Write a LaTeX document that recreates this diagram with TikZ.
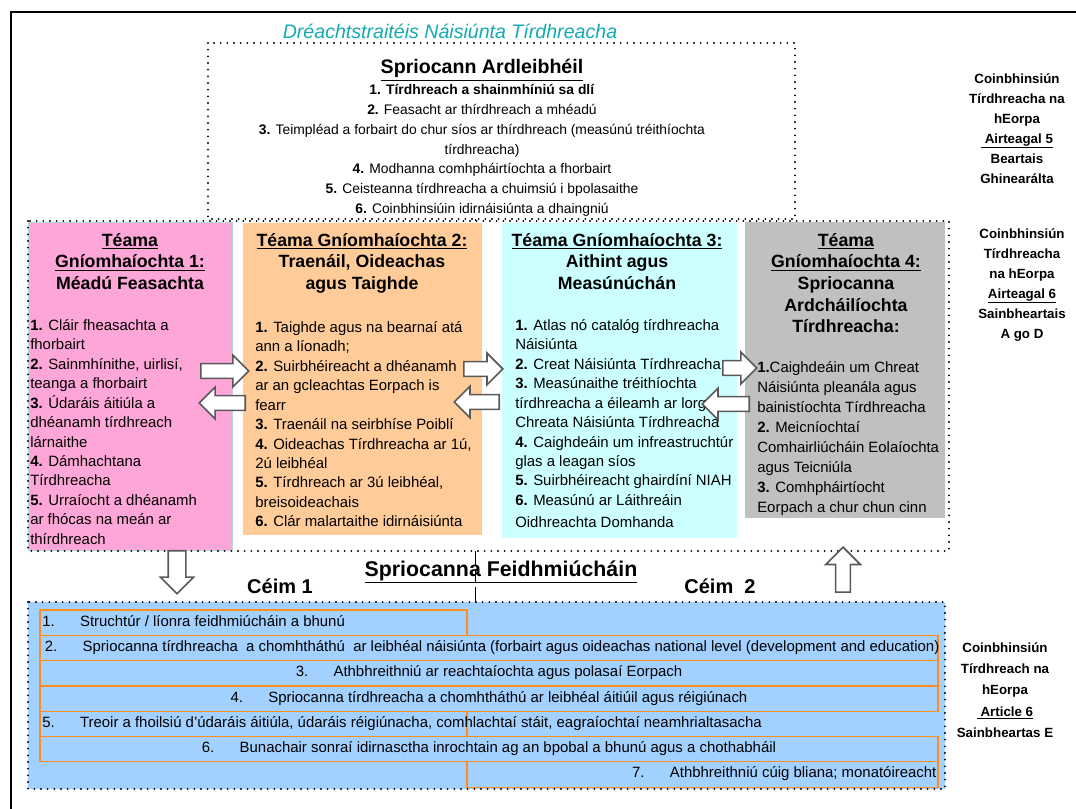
\documentclass[tikz,border=0pt]{standalone}
\usepackage{fontspec}
\setmainfont{Liberation Sans}
\usetikzlibrary{shapes.arrows}
\definecolor{pinkbox}{RGB}{255,166,216}
\definecolor{tanbox}{RGB}{255,204,153}
\definecolor{turqbox}{RGB}{204,255,255}
\definecolor{greybox}{RGB}{192,192,192}
\definecolor{bluebox}{RGB}{163,209,255}
\definecolor{rowline}{RGB}{255,140,30}
\definecolor{titleteal}{RGB}{20,170,175}
\tikzset{
  dots/.style={line width=1.6pt, dash pattern=on 0pt off 5pt, line cap=round},
  colbox/.style={anchor=north west, inner sep=0pt, outer sep=0pt},
  head/.style={font=\bfseries\fontsize{13.3}{16.2}\selectfont, align=center, inner sep=0pt, anchor=north},
  list/.style={font=\fontsize{11.2}{14.6}\selectfont, align=left, inner sep=0pt, anchor=north west},
  side/.style={font=\bfseries\fontsize{10}{15}\selectfont, align=center, inner sep=0pt, anchor=north},
  row/.style={draw=rowline, fill=bluebox, line width=0.9pt, anchor=north west, inner sep=0pt, outer sep=0pt, minimum height=25.3*0.75pt},
  rowtext/.style={font=\fontsize{11.2}{14}\selectfont, inner sep=0pt},
  barrow/.style={single arrow, draw=black!65, fill=white, line width=1.2pt, inner xsep=0pt, inner ysep=4.9pt, single arrow head extend=6.4pt, anchor=tail},
  varrow/.style={barrow, inner xsep=6pt, inner ysep=0pt},
}
\newcommand{\rowgap}{\hspace{19pt}}
\begin{document}
\begin{tikzpicture}[x=0.75pt,y=-0.75pt]
  \useasboundingbox (0,0) rectangle (1076,809);
  \clip (0,0) rectangle (1076,809);
  % frame
  \draw[line width=1.5pt] (11,830) -- (11,12) -- (1090,12);
  \draw[dashed, dash pattern=on 11pt off 3pt, line width=0.6pt] (475,214) -- (475,602);
  % top goals
  \draw[dots, fill=white] (208,43) rectangle (795,219);
  \node[font=\itshape\fontsize{14.7}{17}\selectfont, text=titleteal, anchor=base] (title) at (450,39) {Dréachtstraitéis Náisiúnta Tírdhreacha};
  \node[font=\bfseries\fontsize{14.7}{17}\selectfont, anchor=base] (goal) at (482,74) {\underline{Spriocann Ardleibhéil}};
  \node[font=\fontsize{10.4}{14.9}\selectfont, align=center, anchor=north, inner sep=0pt] (goals) at (482,84)
    {\textbf{1. Tírdhreach a shainmhíniú sa dlí}\\
     \textbf{2.} Feasacht ar thírdhreach a mhéadú\\
     \textbf{3.} Teimpléad a forbairt do chur síos ar thírdhreach (measúnú tréithíochta\\
     tírdhreacha)\\
     \textbf{4.} Modhanna comhpháirtíochta a fhorbairt\\
     \textbf{5.} Ceisteanna tírdhreacha a chuimsiú i bpolasaithe\\
     \textbf{6.} Coinbhinsiúin idirnáisiúnta a dhaingniú};
  % themes
  \fill[white] (28,221) rectangle (949,551);
  \node[colbox, fill=pinkbox, draw=turqbox!70!gray, line width=0.4pt, minimum width=204*0.75pt, minimum height=328*0.75pt] (c1) at (28,222) {};
  \node[colbox, fill=tanbox, minimum width=239*0.75pt, minimum height=312*0.75pt] (c2) at (243,223) {};
  \node[colbox, fill=turqbox, minimum width=235*0.75pt, minimum height=315*0.75pt] (c3) at (502,223) {};
  \node[colbox, fill=greybox, minimum width=200*0.75pt, minimum height=296*0.75pt] (c4) at (745,222) {};
  \draw[dots] (28,221) rectangle (949,551);
  \node[head] (t1) at (130,233) {\underline{Téama}\\\underline{Gníomhaíochta 1:}\\Méadú Feasachta};
  \node[head] (t2) at (362,233) {\underline{Téama Gníomhaíochta 2:}\\Traenáil, Oideachas\\agus Taighde};
  \node[head] (t3) at (617,233) {\underline{Téama Gníomhaíochta 3:}\\Aithint agus\\Measúnúchán};
  \node[head] (t4) at (846,233) {\underline{Téama}\\\underline{Gníomhaíochta 4:}\\Spriocanna\\Ardcháilíochta\\Tírdhreacha:};
  \node[list] (l1) at (30,319) {\textbf{1.} Cláir fheasachta a\\fhorbairt\\\textbf{2.} Sainmhínithe, uirlisí,\\teanga a fhorbairt\\\textbf{3.} Údaráis áitiúla a\\dhéanamh tírdhreach\\lárnaithe\\\textbf{4.} Dámhachtana\\Tírdhreacha\\\textbf{5.} Urraíocht a dhéanamh\\ar fhócas na meán ar\\thírdhreach};
  \node[list] (l2) at (255,321) {\textbf{1.} Taighde agus na bearnaí atá\\ann a líonadh;\\\textbf{2.} Suirbhéireacht a dhéanamh\\ar an gcleachtas Eorpach is\\fearr\\\textbf{3.} Traenáil na seirbhíse Poiblí\\\textbf{4.} Oideachas Tírdhreacha ar 1ú,\\2ú leibhéal\\\textbf{5.} Tírdhreach ar 3ú leibhéal,\\breisoideachais\\\textbf{6.} Clár malartaithe idirnáisiúnta};
  \node[list] (l3) at (515,319) {\textbf{1.} Atlas nó catalóg tírdhreacha\\Náisiúnta\\\textbf{2.} Creat Náisiúnta Tírdhreacha\\\textbf{3.} Measúnaithe tréithíochta\\tírdhreacha a éileamh ar lorg an\\Chreata Náisiúnta Tírdhreacha\\\textbf{4.} Caighdeáin um infreastruchtúr\\glas a leagan síos\\\textbf{5.} Suirbhéireacht ghairdíní NIAH\\\textbf{6.} Measúnú ar Láithreáin\\[2pt]Oidhreachta Domhanda};
  \node[list, font=\fontsize{11.2}{15}\selectfont] (l4) at (757,361) {\textbf{1.}Caighdeáin um Chreat\\Náisiúnta pleanála agus\\bainistíochta Tírdhreacha\\\textbf{2.} Meicníochtaí\\Comhairliúcháin Eolaíochta\\agus Teicniúla\\\textbf{3.} Comhpháirtíocht\\Eorpach a chur chun cinn};
  % articles
  \node[side] (art5) at (1017,73) {Coinbhinsiún\\Tírdhreacha na\\hEorpa\\\underline{\ Airteagal 5}\\Beartais\\Ghinearálta};
  \node[side] (art6) at (1022,228) {Coinbhinsiún\\Tírdhreacha\\na hEorpa\\\underline{Airteagal 6}\\Sainbheartais\\A go D};
  \node[side, font=\bfseries\fontsize{10}{16.1}\selectfont] (art6e) at (1005,642) {Coinbhinsiún\\Tírdhreach na\\hEorpa\\\underline{\ Article 6}\\Sainbheartas E};
  % implementation
  \node[font=\bfseries\fontsize{16}{18}\selectfont, anchor=base] (impl) at (501,576) {\underline{Spriocanna Feidhmiúcháin}};
  \node[font=\bfseries\fontsize{15}{18}\selectfont, anchor=base] (st1) at (280,594) {Céim 1};
  \node[font=\bfseries\fontsize{15}{18}\selectfont, anchor=base] (st2) at (720,594) {Céim\ \ 2};
  \fill[bluebox] (28,602) rectangle (945,789);
  \node[row, minimum width=427*0.75pt] (r1) at (40,610) {};
  \node[row, minimum width=898*0.75pt] (r2) at (40,635.3) {};
  \node[row, minimum width=898*0.75pt] (r3) at (40,660.6) {};
  \node[row, minimum width=898*0.75pt] (r4) at (40,685.9) {};
  \node[row, minimum width=427*0.75pt] (r5) at (40,711.2) {};
  \node[row, minimum width=898*0.75pt] (r6) at (40,736.5) {};
  \node[row, minimum width=471*0.75pt] (r7) at (467,761.8) {};
  \draw[dots] (28,602) rectangle (945,789);
  \node[rowtext, anchor=mid west, xshift=1.5pt] (p1) at (r1.west) {1.\rowgap Struchtúr / líonra feidhmiúcháin a bhunú};
  \node[rowtext, anchor=mid west, xshift=3.5pt] (p2) at (r2.west) {2.\rowgap Spriocanna tírdhreacha\ \ a chomhtháthú\ \ ar leibhéal náisiúnta (forbairt agus oideachas national level (development and education)};
  \node[rowtext, anchor=mid] (p3) at (r3.center) {3.\rowgap Athbhreithniú ar reachtaíochta agus polasaí Eorpach};
  \node[rowtext, anchor=mid] (p4) at (r4.center) {4.\rowgap Spriocanna tírdhreacha a chomhtháthú ar leibhéal áitiúil agus réigiúnach};
  \node[rowtext, anchor=mid west, xshift=1.5pt] (p5) at (r5.west) {5.\rowgap Treoir a fhoilsiú d'údaráis áitiúla, údaráis réigiúnacha, comhlachtaí stáit, eagraíochtaí neamhrialtasacha};
  \node[rowtext, anchor=mid] (p6) at (r6.center) {6.\rowgap Bunachair sonraí idirnasctha inrochtain ag an bpobal a bhunú agus a chothabháil};
  \node[rowtext, anchor=mid east, xshift=-1pt] (p7) at (r7.east) {7.\rowgap Athbhreithniú cúig bliana; monatóireacht};
  % block arrows
  \node[barrow, minimum height=36pt] (a1r) at (200,371) {};
  \node[barrow, shape border rotate=180, minimum height=34.5pt] (a1l) at (246,403) {};
  \node[barrow, minimum height=29.3pt] (a2r) at (463,369) {};
  \node[barrow, shape border rotate=180, minimum height=33.8pt] (a2l) at (500,402) {};
  \node[barrow, minimum height=25.5pt] (a3r) at (722,368) {};
  \node[barrow, shape border rotate=180, minimum height=35.3pt] (a3l) at (750,404) {};
  \node[varrow, shape border rotate=270, single arrow head extend=6pt, minimum height=32.3pt] (down) at (177,550) {};
  \node[varrow, shape border rotate=90, inner xsep=4.9pt, single arrow head extend=7.5pt, minimum height=33.8pt] (up) at (843,593) {};
\end{tikzpicture}
\end{document}
